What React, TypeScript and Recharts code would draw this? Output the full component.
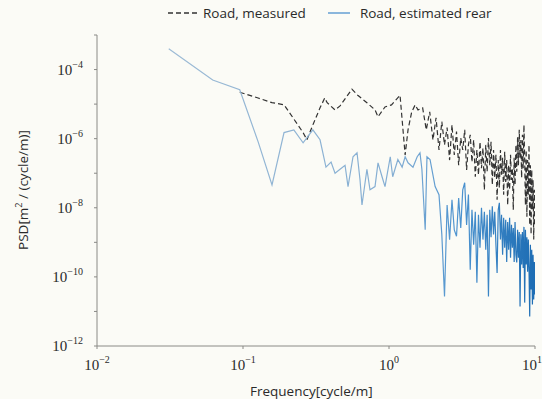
import { LineChart, Line, XAxis, YAxis } from "recharts";

// Road, measured (dashed)
const measuredFreq = [
  0.095, 0.127, 0.158, 0.191, 0.223, 0.258, 0.274, 0.301, 0.337, 0.363, 0.377, 0.427, 0.462,
  0.557, 0.611, 0.706, 0.802, 0.841, 0.939, 1.04, 1.19, 1.29, 1.35, 1.43, 1.51, 1.58,
  1.7, 1.8, 1.9, 2.0, 2.1, 2.2, 2.3, 2.4, 2.5, 2.6, 2.7, 2.8, 2.9, 3.0, 3.1, 3.2, 3.3, 3.4,
  3.5, 3.6, 3.7, 3.8, 3.9, 4.0, 4.1, 4.2, 4.3, 4.4, 4.5, 4.6, 4.7, 4.8, 4.9, 5.0, 5.1, 5.2,
  5.3, 5.4, 5.5, 5.6, 5.7, 5.8, 5.9, 6.0, 6.1, 6.2, 6.3, 6.4, 6.5, 6.6, 6.7, 6.8, 6.9, 7.0,
  7.1, 7.2, 7.3, 7.4, 7.5, 7.6, 7.7, 7.8, 7.9, 8.0, 8.1, 8.2, 8.3, 8.4, 8.5, 8.6, 8.7, 8.8,
  8.9, 9.0, 9.1, 9.2, 9.3, 9.4, 9.5, 9.6, 9.7, 9.8, 9.9, 10.0,
];
const measuredPsd = [
  2.2e-5, 1.5e-5, 1.1e-5, 9.6e-6, 3.7e-6, 1.5e-6, 9.3e-7, 2.5e-6, 7.8e-6, 1.5e-5, 1.1e-5, 6.8e-6, 8.9e-6,
  2.7e-5, 1.8e-5, 1.1e-5, 6.8e-6, 4.3e-6, 8.3e-6, 9.5e-6, 1.8e-5, 3.4e-7, 1.8e-6, 5.9e-6, 9.5e-6, 6.8e-6,
  7.8e-6, 1.8e-6, 6.0e-6, 9.2e-7, 4.0e-6, 4.7e-7, 3.1e-6, 6.6e-7, 2.1e-6, 2.4e-7, 2.5e-6, 3.4e-7, 1.6e-6, 1.7e-7, 1.05e-6, 4.7e-7, 1.8e-6, 1.25e-7,
  6.6e-7, 1.3e-6, 2.1e-7, 9.2e-7, 7.9e-8, 4.7e-7, 9.0e-8, 8.1e-7, 1.4e-7, 5.4e-7, 3.3e-8, 6.6e-7, 1.1e-7, 1.05e-6, 1.7e-7, 8.1e-7, 4.6e-8, 4.7e-7,
  7.4e-8, 3.4e-7, 1.7e-8, 2.4e-7, 3.8e-8, 4.7e-7, 9.0e-8, 2.8e-7, 2.4e-8, 4.2e-7, 5.6e-8, 2.4e-7, 1.2e-8, 1.7e-7, 3.3e-8, 3.4e-7, 6.4e-8, 1.4e-7,
  8.7e-9, 2.8e-7, 4.6e-8, 6.6e-7, 1.1e-7, 1.1e-6, 1.7e-7, 1.8e-6, 2.8e-7, 9.2e-7, 7.4e-8, 1.3e-6, 1.4e-7, 2.5e-6, 2.4e-7, 1.2e-8, 4.7e-7, 5.5e-9,
  2.4e-7, 2.4e-8, 6.6e-7, 3.2e-9, 1.7e-7, 1.7e-9, 1.25e-7, 8.7e-9, 6.4e-8, 1.2e-9, 3.3e-8, 3.2e-9,
];

// Road, estimated rear (solid blue)
const estimatedFreq = [
  0.031, 0.062, 0.095, 0.127, 0.158, 0.191, 0.223, 0.258, 0.301, 0.337, 0.37, 0.401, 0.427,
  0.462, 0.5, 0.524, 0.567, 0.604, 0.633, 0.653, 0.706, 0.741, 0.802, 0.841, 0.896, 0.939,
  1.02, 1.06, 1.15, 1.23, 1.29, 1.35, 1.46, 1.56, 1.63, 1.68, 1.77, 1.82, 1.91, 2.07,
  2.2, 2.3, 2.4, 2.5, 2.6, 2.7, 2.8, 2.9, 3.0, 3.1, 3.2, 3.3, 3.4, 3.5, 3.6, 3.7, 3.8, 3.9,
  4.0, 4.1, 4.2, 4.3, 4.4, 4.5, 4.6, 4.7, 4.8, 4.9, 5.0, 5.1, 5.2, 5.3, 5.4, 5.5, 5.6, 5.7,
  5.8, 5.9, 6.0, 6.1, 6.2, 6.3, 6.4, 6.5, 6.6, 6.7, 6.8, 6.9, 7.0, 7.1, 7.2, 7.3, 7.4, 7.5,
  7.6, 7.7, 7.8, 7.9, 8.0, 8.1, 8.2, 8.3, 8.4, 8.5, 8.6, 8.7, 8.8, 8.9, 9.0, 9.1, 9.2, 9.3,
  9.4, 9.5, 9.6, 9.7, 9.8, 9.9, 10.0,
];
const estimatedPsd = [
  4.0e-4, 5.0e-5, 2.6e-5, 8.1e-7, 4.6e-8, 1.5e-6, 1.8e-6, 7.6e-7, 1.8e-6, 9.3e-7, 1.5e-7, 2.1e-7, 1.0e-7,
  1.3e-7, 1.7e-7, 4.1e-8, 3.0e-7, 3.9e-7, 6.5e-8, 1.2e-8, 1.3e-7, 3.3e-8, 4.1e-8, 2.0e-7, 7.9e-8, 4.1e-8,
  3.0e-7, 7.9e-8, 2.5e-7, 1.5e-7, 3.0e-7, 2.0e-7, 1.5e-7, 3.0e-7, 3.9e-7, 1.3e-7, 2.3e-9, 3.0e-7, 2.5e-7, 4.1e-8,
  2.4e-8, 1.7e-9, 2.7e-11, 1.2e-8, 1.2e-9, 1.7e-8, 2.3e-9, 1.5e-9, 1.9e-8, 2.6e-9, 3.3e-8, 5.3e-8, 3.2e-9, 2.4e-8, 1.6e-10, 8.7e-9, 8.5e-10, 7.7e-9,
  6.8e-11, 6.3e-9, 7.0e-10, 1.0e-8, 1.2e-9, 7.7e-9, 6.1e-10, 6.3e-9, 2.7e-11, 8.7e-9, 1.4e-9, 1.1e-8, 1.7e-9, 7.7e-9, 8.5e-10, 1.3e-10, 8.7e-9, 1.4e-8,
  1.2e-9, 6.3e-9, 4.4e-10, 5.1e-9, 7.0e-10, 4.5e-9, 2.7e-10, 3.9e-9, 6.1e-10, 5.1e-9, 3.6e-10, 3.2e-9, 7.0e-10, 2.6e-9, 2.7e-10, 3.9e-9, 4.4e-10, 2.6e-10,
  2.3e-9, 3.6e-10, 2.0e-9, 1.4e-11, 1.7e-9, 2.3e-10, 2.0e-9, 1.8e-10, 2.8e-9, 1.8e-11, 2.3e-9, 2.3e-10, 1.4e-9, 1.4e-10, 1.2e-9, 1.6e-10, 7.1e-12, 8.5e-10,
  4.3e-11, 6.1e-10, 1.6e-11, 4.4e-10, 2.2e-11, 2.7e-10, 3.1e-11,
];

const xTicks = [0.01, 0.1, 1, 10];
const yTicks = [1e-12, 1e-11, 1e-10, 1e-9, 1e-8, 1e-7, 1e-6, 1e-5, 1e-4, 1e-3];
const yLabelled = [-12, -10, -8, -6, -4];

const measured = measuredFreq.map((f, i) => ({ f, psd: measuredPsd[i] }));
const estimated = estimatedFreq.map((f, i) => ({ f, psd: estimatedPsd[i] }));

const ink = "#2a2a2a";
const axisColor = "#8a8a86";
const serif = "'Liberation Serif', 'DejaVu Serif', serif";
const sans = "'Open Sans', 'Noto Sans', sans-serif";

const expOf = (v: number) => Math.round(Math.log10(v));
const sup = (e: number) => (e < 0 ? "\u2212" + Math.abs(e) : String(e));

function XTick({ x, y, payload }: any) {
  const e = expOf(payload.value);
  // the last label sits on the right edge, as in the source it is clipped by the frame
  const dx = e === 1 ? -3 : 0;
  return (
    <text x={x + dx} y={y + 19} textAnchor="middle" fontFamily={serif} fontSize={15} fill={ink}>
      <tspan>10</tspan>
      <tspan dy={-7} fontSize={10}>{sup(e)}</tspan>
    </text>
  );
}

function YTick({ x, y, payload }: any) {
  const e = expOf(payload.value);
  if (!yLabelled.includes(e)) return null;
  return (
    <text x={x - 9} y={y + 5} textAnchor="end" fontFamily={serif} fontSize={15} fill={ink}>
      <tspan>10</tspan>
      <tspan dy={-7} fontSize={10}>{sup(e)}</tspan>
    </text>
  );
}

function LegendOverlay() {
  return (
    <div
      style={{
        position: "absolute",
        top: 4,
        left: 168,
        display: "flex",
        alignItems: "center",
        fontFamily: sans,
        fontSize: 13.5,
        color: ink,
        whiteSpace: "nowrap",
      }}
    >
      <svg width={30} height={10} style={{ display: "block" }}>
        <line x1={0} y1={5} x2={30} y2={5} stroke="#333" strokeWidth={1.4} strokeDasharray="5 3" />
      </svg>
      <span style={{ marginLeft: 5 }}>Road, measured</span>
      <svg width={22} height={10} style={{ display: "block", marginLeft: 22 }}>
        <line x1={0} y1={5} x2={22} y2={5} stroke="#6fa6d6" strokeWidth={1.6} />
      </svg>
      <span style={{ marginLeft: 10 }}>Road, estimated rear</span>
    </div>
  );
}

export default function App() {
  return (
    <div
      style={{
        position: "absolute",
        left: 0,
        top: 0,
        width: 542,
        height: 399,
        background: "#fbfbf6",
        overflow: "hidden",
      }}
    >
      <LegendOverlay />
      <LineChart width={542} height={399} margin={{ top: 35, right: 7, bottom: 0, left: 0 }}>
        <defs>
          <linearGradient id="estFade" x1="0" y1="0" x2="1" y2="0">
            <stop offset="0" stopColor="#9dbbd5" />
            <stop offset="0.62" stopColor="#84aed3" />
            <stop offset="0.8" stopColor="#4b92cf" />
            <stop offset="1" stopColor="#1d6db4" />
          </linearGradient>
        </defs>
        <XAxis
          dataKey="f"
          type="number"
          scale="log"
          domain={[0.01, 10]}
          ticks={xTicks}
          allowDataOverflow
          height={53}
          axisLine={{ stroke: axisColor }}
          tickLine={{ stroke: axisColor }}
          tickSize={3}
          tick={<XTick />}
          interval={0}
        />
        <XAxis
          xAxisId="top"
          orientation="top"
          type="number"
          scale="log"
          domain={[0.01, 10]}
          ticks={xTicks}
          allowDataOverflow
          height={0}
          axisLine={{ stroke: axisColor }}
          tickLine={false}
          tick={false}
        />
        <YAxis
          type="number"
          scale="log"
          domain={[1e-12, 1e-3]}
          ticks={yTicks}
          allowDataOverflow
          width={97}
          axisLine={{ stroke: axisColor }}
          tickLine={{ stroke: axisColor }}
          tickSize={3}
          tick={<YTick />}
          interval={0}
        />
        <YAxis
          yAxisId="right"
          orientation="right"
          type="number"
          scale="log"
          domain={[1e-12, 1e-3]}
          ticks={yTicks}
          allowDataOverflow
          width={0}
          axisLine={{ stroke: axisColor }}
          tickLine={false}
          tick={false}
        />
        <Line
          data={measured}
          dataKey="psd"
          name="Road, measured"
          stroke="#333"
          strokeWidth={1.2}
          strokeDasharray="5 3"
          dot={false}
          isAnimationActive={false}
        />
        <Line
          data={estimated}
          dataKey="psd"
          name="Road, estimated rear"
          stroke="url(#estFade)"
          strokeWidth={1.2}
          dot={false}
          isAnimationActive={false}
        />
      </LineChart>
      <div
        style={{
          position: "absolute",
          top: 382,
          left: 250,
          fontFamily: sans,
          fontSize: 13.5,
          color: ink,
          whiteSpace: "nowrap",
        }}
      >
        Frequency[cycle/m]
      </div>
      <div
        style={{
          position: "absolute",
          left: 22,
          top: 190,
          transform: "translate(-50%, -50%) rotate(-90deg)",
          fontFamily: sans,
          fontSize: 13.5,
          color: ink,
          whiteSpace: "nowrap",
        }}
      >
        PSD[m<sup style={{ fontSize: 9 }}>2</sup> / (cycle/m)]
      </div>
    </div>
  );
}
